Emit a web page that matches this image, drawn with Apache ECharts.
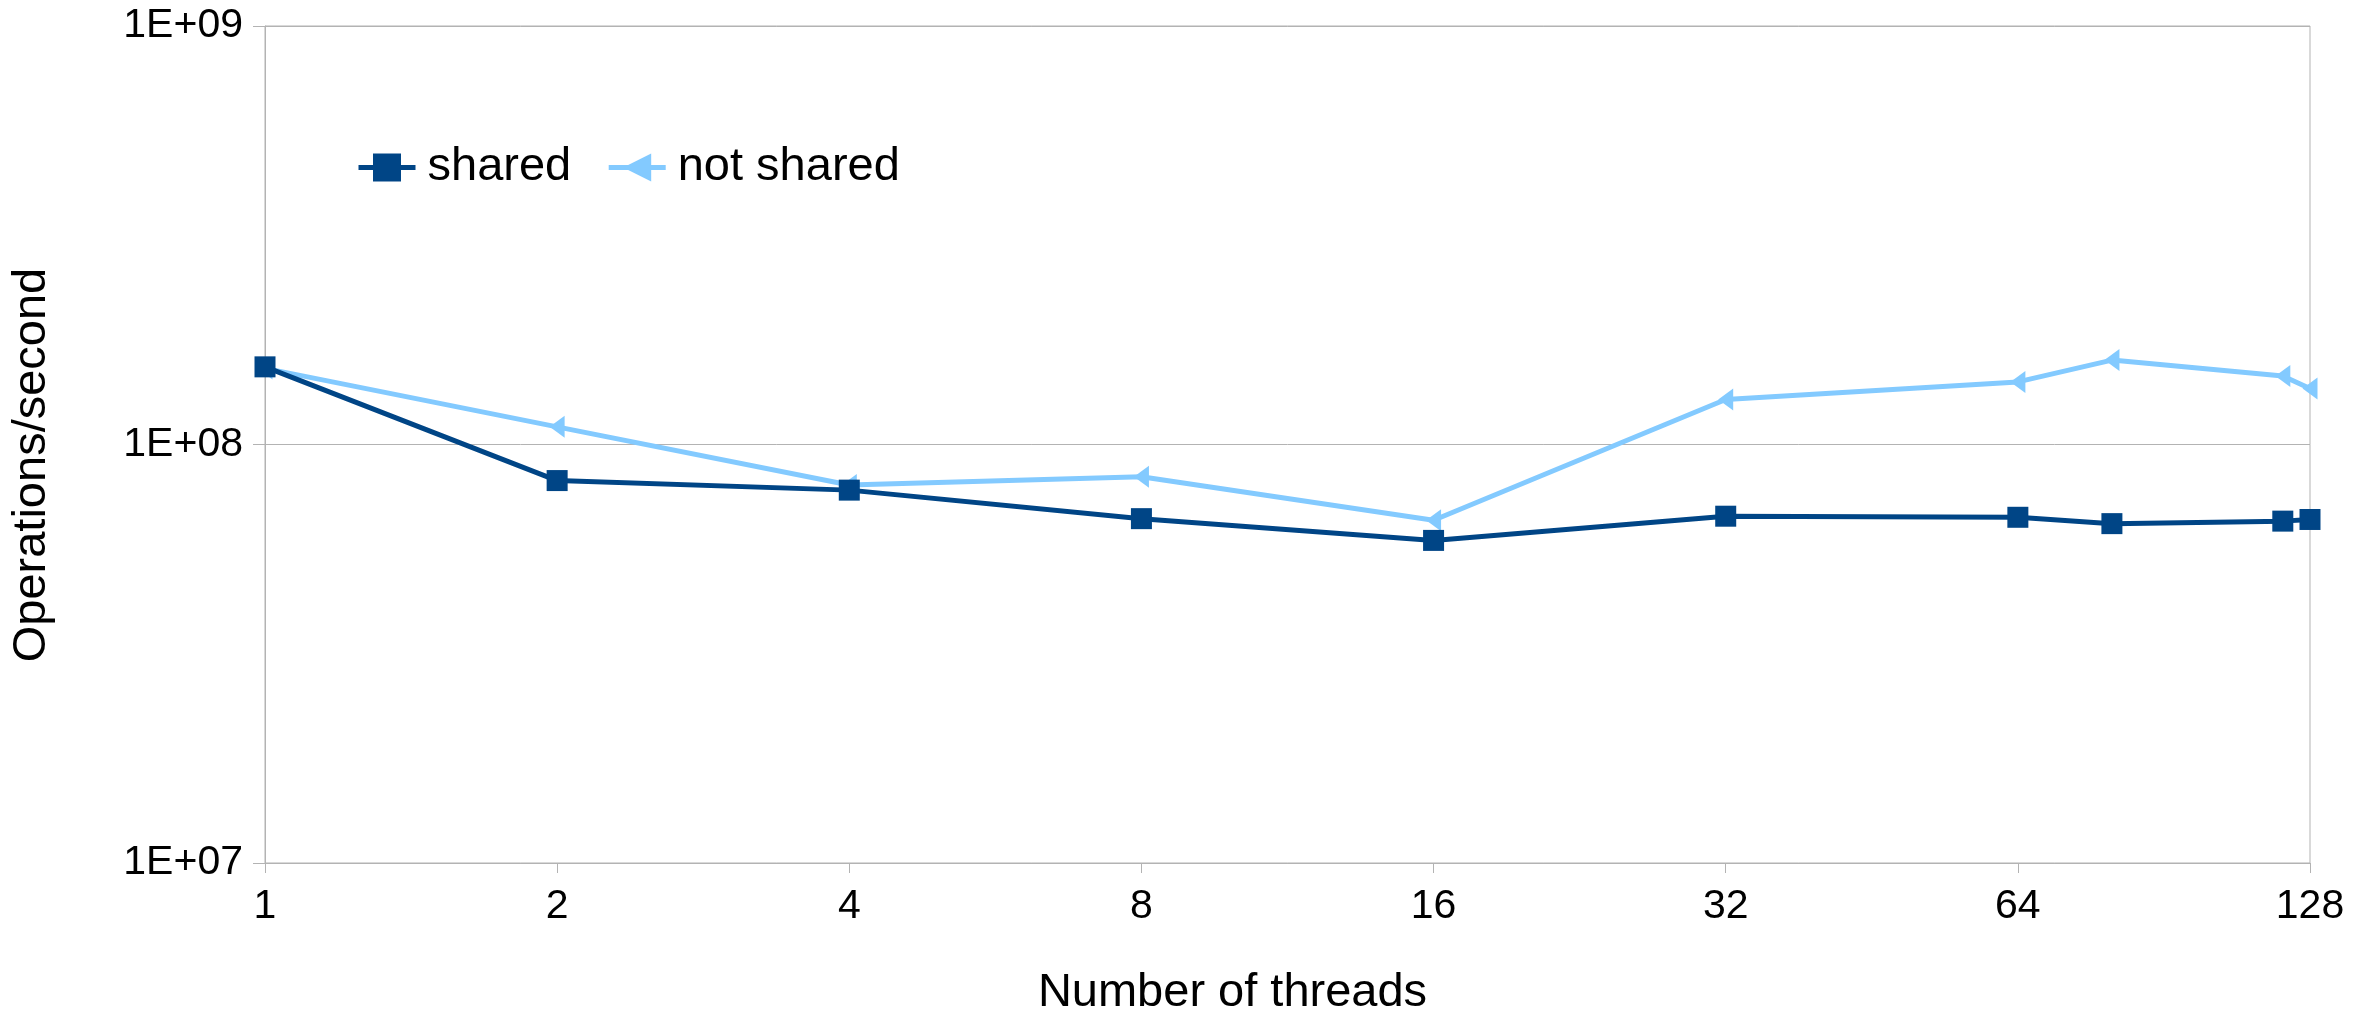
<!DOCTYPE html>
<html>
<head>
<meta charset="utf-8">
<script src="https://cdn.jsdelivr.net/npm/echarts@6/dist/echarts.min.js"></script>
<style>
  html, body { margin: 0; padding: 0; background: #fff; }
  #chart { width: 2369px; height: 1014px; }
</style>
</head>
<body>
<div id="chart"></div>
<script>
const threads = [1, 2, 4, 8, 16, 32, 64, 80, 120, 128];
const shared = [1.533e8, 8.2e7, 7.78e7, 6.65e7, 5.9e7, 6.74e7, 6.7e7, 6.47e7, 6.56e7, 6.62e7];
const notShared = [1.52e8, 1.102e8, 8.0e7, 8.37e7, 6.59e7, 1.281e8, 1.411e8, 1.591e8, 1.457e8, 1.361e8];
const yTickLabels = ['1E+07', '1E+08', '1E+09'];

const font = 'Liberation Sans';
const axisGrey = '#b3b3b3';
const darkBlue = '#004586';
const lightBlue = '#83caff';

const chart = echarts.init(document.getElementById('chart'));

chart.setOption({
  animation: false,
  backgroundColor: '#fff',
  textStyle: { fontFamily: font, color: '#000' },
  grid: {
    left: 265, right: 59, top: 26, bottom: 151,
    outerBoundsMode: 'none', containLabel: false,
    show: true, borderColor: axisGrey, borderWidth: 1
  },
  legend: {
    left: 351, top: 139,
    itemWidth: 57, itemHeight: 35, itemGap: 35,
    textStyle: { fontSize: 47, color: '#000', fontFamily: font, padding: [0, 0, 0, 7] },
    data: [
      { name: 'shared', lineStyle: { width: 5, color: darkBlue } },
      { name: 'not shared', lineStyle: { width: 5, color: lightBlue } }
    ]
  },
  xAxis: {
    type: 'log', logBase: 2, min: 1, max: 128, splitNumber: 7,
    name: 'Number of threads', nameLocation: 'middle', nameGap: 107,
    nameTextStyle: { fontSize: 47, color: '#000', padding: [0, 110, 0, 0] },
    axisLine: { lineStyle: { color: axisGrey, width: 1 } },
    axisTick: { show: true, length: 10, lineStyle: { color: axisGrey } },
    axisLabel: { fontSize: 41, color: '#000', margin: 23,
      formatter: v => String(threads.find(t => Math.abs(t - v) < 1e-6) ?? Math.round(v)) },
    splitLine: { show: false }
  },
  yAxis: {
    type: 'log', logBase: 10, min: 1e7, max: 1e9,
    name: 'Operations/second', nameLocation: 'middle', nameGap: 209, nameRotate: 90,
    nameTextStyle: { fontSize: 47, color: '#000', padding: [0, 41, 0, 0] },
    axisLine: { show: true, lineStyle: { color: axisGrey, width: 1 } },
    axisTick: { show: true, length: 12, lineStyle: { color: axisGrey } },
    axisLabel: { fontSize: 41, color: '#000', margin: 22, padding: [12, 0, 0, 0],
      formatter: (v, i) => yTickLabels[i] },
    splitLine: { show: true, lineStyle: { color: axisGrey, width: 1 } }
  },
  series: [
    {
      name: 'shared', type: 'line', z: 3,
      data: threads.map((t, i) => [t, shared[i]]),
      symbol: 'rect', symbolSize: 21,
      lineStyle: { color: darkBlue, width: 5 },
      itemStyle: { color: darkBlue }
    },
    {
      name: 'not shared', type: 'line', z: 2,
      data: threads.map((t, i) => [t, notShared[i]]),
      symbol: 'triangle', symbolSize: [22, 15], symbolRotate: 90,
      lineStyle: { color: lightBlue, width: 5 },
      itemStyle: { color: lightBlue }
    }
  ]
});
</script>
</body>
</html>
